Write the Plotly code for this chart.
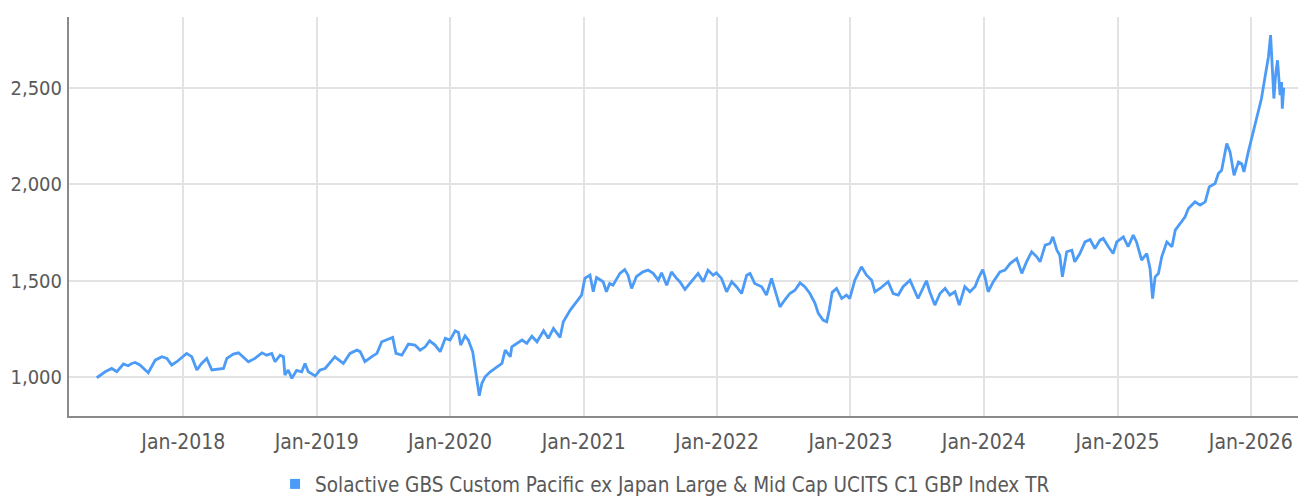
import plotly.graph_objects as go

SERIES_NAME = "Solactive GBS Custom Pacific ex Japan Large & Mid Cap UCITS C1 GBP Index TR"

dates = [
    "2017-05-09", "2017-05-18", "2017-06-01", "2017-06-19", "2017-07-03", "2017-07-21", "2017-08-03",
    "2017-08-13", "2017-08-22", "2017-09-04", "2017-09-18", "2017-09-27", "2017-10-16", "2017-11-03",
    "2017-11-17", "2017-11-30", "2017-12-14", "2018-01-01", "2018-01-10", "2018-01-24", "2018-02-07",
    "2018-02-20", "2018-03-06", "2018-03-20", "2018-04-07", "2018-04-21", "2018-04-30", "2018-05-18",
    "2018-06-01", "2018-06-14", "2018-06-28", "2018-07-16", "2018-08-04", "2018-08-17", "2018-08-31",
    "2018-09-09", "2018-09-23", "2018-10-02", "2018-10-06", "2018-10-15", "2018-10-25", "2018-11-07",
    "2018-11-21", "2018-11-30", "2018-12-09", "2018-12-28", "2019-01-10", "2019-01-24", "2019-02-07",
    "2019-02-20", "2019-02-25", "2019-03-15", "2019-04-02", "2019-04-21", "2019-04-30", "2019-05-13",
    "2019-06-01", "2019-06-15", "2019-06-28", "2019-07-12", "2019-07-28", "2019-08-06", "2019-08-22",
    "2019-09-09", "2019-09-27", "2019-10-11", "2019-10-25", "2019-11-06", "2019-11-21", "2019-12-05",
    "2019-12-19", "2020-01-01", "2020-01-15", "2020-01-24", "2020-01-30", "2020-02-11", "2020-02-20",
    "2020-03-03", "2020-03-14", "2020-03-21", "2020-03-28", "2020-04-06", "2020-04-20", "2020-05-08",
    "2020-05-22", "2020-05-31", "2020-06-14", "2020-06-18", "2020-07-02", "2020-07-16", "2020-07-29",
    "2020-08-12", "2020-08-26", "2020-09-13", "2020-09-26", "2020-10-10", "2020-10-28", "2020-11-06",
    "2020-11-25", "2020-12-08", "2020-12-17", "2020-12-26", "2021-01-04", "2021-01-13", "2021-01-18",
    "2021-01-27", "2021-02-05", "2021-02-23", "2021-03-04", "2021-03-13", "2021-03-22", "2021-04-10",
    "2021-04-23", "2021-05-02", "2021-05-12", "2021-05-25", "2021-06-12", "2021-06-26", "2021-07-10",
    "2021-07-24", "2021-08-02", "2021-08-16", "2021-08-29", "2021-09-12", "2021-09-21", "2021-10-05",
    "2021-10-23", "2021-11-10", "2021-11-24", "2021-12-07", "2021-12-21", "2021-12-30", "2022-01-13",
    "2022-01-27", "2022-02-10", "2022-02-23", "2022-03-09", "2022-03-23", "2022-04-01", "2022-04-14",
    "2022-05-03", "2022-05-16", "2022-05-30", "2022-06-13", "2022-06-22", "2022-07-05", "2022-07-19",
    "2022-08-02", "2022-08-16", "2022-08-29", "2022-09-12", "2022-09-26", "2022-10-05", "2022-10-18",
    "2022-10-28", "2022-11-04", "2022-11-12", "2022-11-24", "2022-12-08", "2022-12-21", "2022-12-30",
    "2023-01-13", "2023-01-31", "2023-02-14", "2023-02-28", "2023-03-09", "2023-03-23", "2023-04-14",
    "2023-04-28", "2023-05-12", "2023-05-25", "2023-06-13", "2023-06-26", "2023-07-05", "2023-07-28",
    "2023-08-06", "2023-08-20", "2023-09-03", "2023-09-17", "2023-09-30", "2023-10-14", "2023-10-26",
    "2023-11-10", "2023-11-24", "2023-12-08", "2023-12-17", "2023-12-29", "2024-01-04", "2024-01-13",
    "2024-01-27", "2024-02-14", "2024-02-28", "2024-03-13", "2024-03-31", "2024-04-14", "2024-04-27",
    "2024-05-11", "2024-05-25", "2024-06-03", "2024-06-17", "2024-06-30", "2024-07-08", "2024-07-19",
    "2024-07-27", "2024-08-03", "2024-08-15", "2024-08-29", "2024-09-06", "2024-09-20", "2024-10-04",
    "2024-10-18", "2024-10-31", "2024-11-14", "2024-11-23", "2024-12-07", "2024-12-20", "2024-12-30",
    "2025-01-17", "2025-01-30", "2025-02-13", "2025-02-22", "2025-03-08", "2025-03-22", "2025-03-31",
    "2025-04-07", "2025-04-14", "2025-04-23", "2025-05-02", "2025-05-16", "2025-05-30", "2025-06-08",
    "2025-06-21", "2025-07-05", "2025-07-14", "2025-08-01", "2025-08-15", "2025-08-29", "2025-09-09",
    "2025-09-25", "2025-10-04", "2025-10-13", "2025-10-27", "2025-11-05", "2025-11-16", "2025-11-28",
    "2025-12-07", "2025-12-13", "2025-12-25", "2026-01-06", "2026-01-17", "2026-01-30", "2026-02-08",
    "2026-02-18", "2026-02-24", "2026-03-02", "2026-03-05", "2026-03-10", "2026-03-15", "2026-03-22",
    "2026-03-26", "2026-03-28", "2026-04-01",
]

values = [
    998, 1012, 1029, 1046, 1029, 1069, 1060,
    1072, 1077, 1064, 1038, 1024, 1089, 1107,
    1098, 1064, 1081, 1107, 1124, 1107, 1038,
    1072, 1098, 1038, 1041, 1046, 1098, 1120,
    1127, 1107, 1081, 1098, 1127, 1115, 1124,
    1081, 1115, 1107, 1012, 1038, 995, 1036,
    1029, 1072, 1029, 1007, 1038, 1046, 1081,
    1107, 1098, 1072, 1124, 1141, 1133, 1081,
    1107, 1124, 1184, 1193, 1207, 1124, 1115,
    1172, 1167, 1141, 1158, 1189, 1167, 1133,
    1202, 1193, 1241, 1232, 1167, 1215, 1193,
    1132, 1003, 905, 969, 1003, 1029, 1055,
    1072, 1141, 1107, 1158, 1176, 1193, 1176,
    1213, 1184, 1241, 1202, 1253, 1207, 1288,
    1348, 1383, 1403, 1426, 1512, 1521, 1529,
    1443, 1517, 1495, 1443, 1486, 1477, 1538,
    1558, 1529, 1460, 1521, 1546, 1555, 1538,
    1503, 1541, 1477, 1546, 1512, 1495, 1455,
    1495, 1538, 1495, 1555, 1529, 1541, 1512,
    1443, 1495, 1469, 1434, 1529, 1538, 1486,
    1469, 1426, 1512, 1417, 1365, 1400, 1434,
    1451, 1489, 1469, 1434, 1383, 1331, 1296,
    1288, 1350, 1440, 1460, 1408, 1426, 1408,
    1503, 1572, 1529, 1503, 1443, 1460, 1495,
    1434, 1426, 1469, 1503, 1451, 1408, 1500,
    1443, 1374, 1434, 1460, 1426, 1443, 1374,
    1469, 1443, 1469, 1512, 1558, 1521, 1443,
    1495, 1546, 1555, 1589, 1615, 1538, 1598,
    1650, 1624, 1598, 1684, 1693, 1727, 1658,
    1632, 1520, 1650, 1658, 1598, 1641, 1701,
    1713, 1667, 1710, 1719, 1676, 1641, 1701,
    1727, 1676, 1736, 1701, 1607, 1641, 1563,
    1408, 1520, 1537, 1624, 1701, 1676, 1762,
    1796, 1831, 1874, 1908, 1891, 1908, 1986,
    2003, 2055, 2072, 2210, 2167, 2046, 2115,
    2106, 2063, 2167, 2262, 2348, 2443, 2546,
    2658, 2771, 2589, 2443, 2572, 2641, 2460,
    2529, 2391, 2500,
]

y_ticks = [1000, 1500, 2000, 2500]

LINE_COLOR = "#4c9bf6"
FONT = "DejaVu Sans Condensed, Liberation Sans Narrow, sans-serif"

fig = go.Figure()
fig.add_trace(go.Scatter(
    x=dates, y=values, mode="lines",
    line=dict(color=LINE_COLOR, width=2.8),
    showlegend=False, hoverinfo="x+y",
))
# legend entry (square marker)
fig.add_trace(go.Scatter(
    x=[None], y=[None], mode="markers", name=SERIES_NAME,
    marker=dict(symbol="square", size=10, color=LINE_COLOR),
))

fig.update_layout(
    width=1298, height=497,
    margin=dict(l=69, r=0, t=17, b=81, autoexpand=False),
    paper_bgcolor="white", plot_bgcolor="white",
    font=dict(family=FONT, size=21, color="#595959"),
    legend=dict(
        orientation="h", x=0.485, xanchor="center",
        yref="container", y=0.026, yanchor="middle",
        font=dict(size=20.5, color="#595959"), itemwidth=30, tracegroupgap=0,
    ),
    xaxis=dict(
        type="date",
        range=["2017-02-22", "2026-05-10"],
        tick0="2018-01-01", dtick="M12", tickformat="%b-%Y",
        showgrid=True, gridcolor="#e3e3e3", gridwidth=2,
        showline=True, linecolor="#8a8a8a", linewidth=2,
        ticks="", ticklabelstandoff=6, automargin=False,
        zeroline=False,
    ),
    yaxis=dict(
        range=[800, 2865],
        tickvals=y_ticks, tickformat=",",
        tickfont=dict(size=20),
        showgrid=True, gridcolor="#e3e3e3", gridwidth=2,
        showline=True, linecolor="#8a8a8a", linewidth=2,
        ticks="", ticklabelstandoff=1, automargin=False,
        zeroline=False,
    ),
)

fig.write_html(
    "out.html",
    config={"displayModeBar": False},
    post_script="document.body.style.margin='0';document.body.style.overflow='hidden';",
)
